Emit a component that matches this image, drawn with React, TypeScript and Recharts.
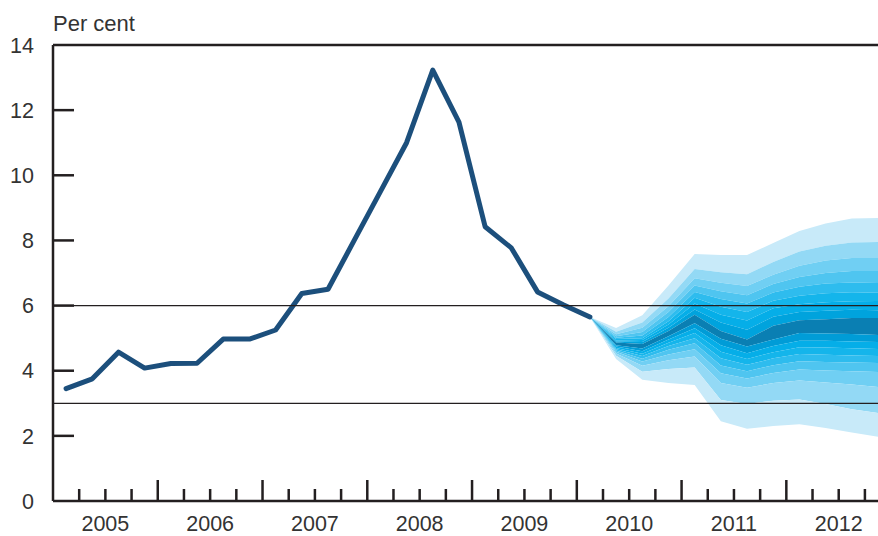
import React from 'react';
import {
  ComposedChart, Line, Area, XAxis, YAxis, ReferenceLine, Customized,
} from 'recharts';

// history, one value per quarter from 2005 Q1 to 2010 Q1 (per cent)
const history = [
  3.45, 3.75, 4.57, 4.08, 4.22, 4.23, 4.97, 4.97, 5.25, 6.37, 6.5,
  8.0, 9.5, 11.0, 13.23, 11.63, 8.42, 7.77, 6.42, 6.02, 5.65,
];

// fan boundaries, top to bottom, one value per quarter from 2010 Q1 to 2012 Q4
const up8 = [5.65, 5.31, 5.70, 6.62, 7.58, 7.55, 7.55, 7.92, 8.29, 8.52, 8.67, 8.69];
const up7 = [5.65, 5.20, 5.48, 6.22, 7.12, 7.02, 6.96, 7.34, 7.66, 7.84, 7.94, 7.95];
const up6 = [5.65, 5.12, 5.32, 5.98, 6.84, 6.70, 6.60, 6.95, 7.22, 7.38, 7.46, 7.46];
const up5 = [5.65, 5.06, 5.19, 5.80, 6.62, 6.44, 6.32, 6.66, 6.88, 7.00, 7.06, 7.06];
const up4 = [5.65, 5.01, 5.08, 5.65, 6.42, 6.20, 6.06, 6.40, 6.58, 6.68, 6.71, 6.69];
const up3 = [5.65, 4.97, 5.00, 5.52, 6.24, 5.96, 5.80, 6.15, 6.30, 6.38, 6.41, 6.39];
const up2 = [5.65, 4.93, 4.94, 5.42, 6.06, 5.72, 5.54, 5.92, 6.04, 6.10, 6.13, 6.14];
const up1 = [5.65, 4.90, 4.88, 5.32, 5.88, 5.48, 5.26, 5.66, 5.80, 5.84, 5.87, 5.86];
const up0 = [5.65, 4.87, 4.82, 5.22, 5.72, 5.22, 4.96, 5.38, 5.55, 5.58, 5.62, 5.62];
const lo0 = [5.65, 4.78, 4.68, 5.06, 5.46, 4.98, 4.74, 4.96, 5.16, 5.14, 5.13, 5.10];
const lo1 = [5.65, 4.74, 4.60, 4.96, 5.30, 4.78, 4.54, 4.76, 4.92, 4.92, 4.90, 4.88];
const lo2 = [5.65, 4.70, 4.52, 4.86, 5.16, 4.58, 4.36, 4.57, 4.72, 4.71, 4.69, 4.67];
const lo3 = [5.65, 4.66, 4.45, 4.76, 5.00, 4.38, 4.18, 4.38, 4.51, 4.49, 4.47, 4.45];
const lo4 = [5.65, 4.62, 4.37, 4.64, 4.84, 4.16, 3.98, 4.17, 4.29, 4.27, 4.25, 4.24];
const lo5 = [5.65, 4.58, 4.28, 4.50, 4.66, 3.92, 3.76, 3.93, 4.04, 4.01, 3.98, 3.96];
const lo6 = [5.65, 4.53, 4.15, 4.32, 4.44, 3.62, 3.48, 3.62, 3.70, 3.64, 3.58, 3.50];
const lo7 = [5.65, 4.46, 3.97, 4.05, 4.10, 3.10, 2.98, 3.08, 3.12, 2.98, 2.82, 2.70];
const lo8 = [5.65, 4.36, 3.72, 3.62, 3.56, 2.45, 2.22, 2.30, 2.36, 2.24, 2.10, 1.97];

const bounds = [up8, up7, up6, up5, up4, up3, up2, up1, up0, lo0, lo1, lo2, lo3, lo4, lo5, lo6, lo7, lo8];
const bandColors = [
  '#c8eaf9', '#93d9f5', '#70cff3', '#4fc5f0', '#2ebcee', '#14b5eb', '#05aee8', '#00a3dd',
  '#0a7fb3',
  '#009cd7', '#05aee8', '#14b5eb', '#2ebcee', '#4fc5f0', '#70cff3', '#93d9f5', '#c8eaf9',
];

const years = [2005, 2006, 2007, 2008, 2009, 2010, 2011, 2012];
const yTicks = [0, 2, 4, 6, 8, 10, 12, 14];
const fanStart = history.length - 1;

const quarterTicks: number[] = [];
for (let q = 1; q < years.length * 4; q++) quarterTicks.push(q);

type Row = { x: number; rate?: number; [k: string]: number | number[] | undefined };
const data: Row[] = [];
for (let i = 0; i < fanStart + up8.length; i++) {
  const row: Row = { x: i + 0.5 };
  if (i < history.length) row.rate = history[i];
  const j = i - fanStart;
  if (j >= 0) {
    for (let k = 0; k < bandColors.length; k++) row[`b${k}`] = [bounds[k + 1][j], bounds[k][j]];
  }
  data.push(row);
}

const FONT = '"Liberation Sans", Arial, Helvetica, sans-serif';
const INK = '#231f20';
const TEXT = '#333333';

function YTick(props: any) {
  const { x, y, payload } = props;
  const v = payload.value;
  return (
    <g>
      <text x={x} y={y} dy="0.36em" textAnchor="end" fontFamily={FONT} fontSize={21.5} fill={TEXT}>{v}</text>
      {v > 0 && v < 14 && <line x1={x + 19} x2={x + 40} y1={y} y2={y} stroke={INK} strokeWidth={2.5} />}
    </g>
  );
}

function XTick(props: any) {
  const { x, y, payload } = props;
  const q = payload.value;
  const len = q % 4 === 0 ? 21 : 12;
  return (
    <g>
      <line x1={x} x2={x} y1={y} y2={y - len} stroke={INK} strokeWidth={2.5} />
      {q % 4 === 2 && (
        <text x={x} y={y + 30} textAnchor="middle" fontFamily={FONT} fontSize={21.5} fill={TEXT}>
          {years[(q - 2) / 4]}
        </text>
      )}
    </g>
  );
}

export default function App() {
  return (
    <div style={{ position: 'absolute', left: 0, top: 0, width: 878, height: 536, background: '#fff' }}>
      <ComposedChart width={878} height={536} data={data} margin={{ top: 45, right: 0, bottom: 0, left: 0 }}>
        <XAxis
          dataKey="x" type="number" domain={[0, 31.5]} ticks={quarterTicks} interval={0}
          height={35} tickLine={false} tickSize={0} tickMargin={0} tick={XTick}
          axisLine={{ stroke: INK, strokeWidth: 2.5 }} allowDataOverflow
        />
        <YAxis
          type="number" domain={[0, 14]} ticks={yTicks} interval={0} width={53}
          tickLine={false} tickSize={0} tickMargin={19} tick={YTick}
          axisLine={{ stroke: INK, strokeWidth: 2.5 }}
        />
        {bandColors.map((c, k) => (
          <Area
            key={k} type="linear" dataKey={`b${k}`} fill={c} fillOpacity={1}
            stroke="none" isAnimationActive={false} dot={false} activeDot={false}
          />
        ))}
        <Line
          type="linear" dataKey="rate" stroke="#1c4f7c" strokeWidth={5} dot={false}
          activeDot={false} isAnimationActive={false} strokeLinejoin="round" strokeLinecap="round"
        />
        <ReferenceLine y={6} stroke={INK} strokeWidth={1.3} />
        <ReferenceLine y={3} stroke={INK} strokeWidth={1.3} />
        <ReferenceLine y={14} stroke={INK} strokeWidth={2.5} />
        <Customized
          component={() => (
            <text x={53} y={31} fontFamily={FONT} fontSize={22} fill={TEXT}>Per cent</text>
          )}
        />
      </ComposedChart>
    </div>
  );
}
